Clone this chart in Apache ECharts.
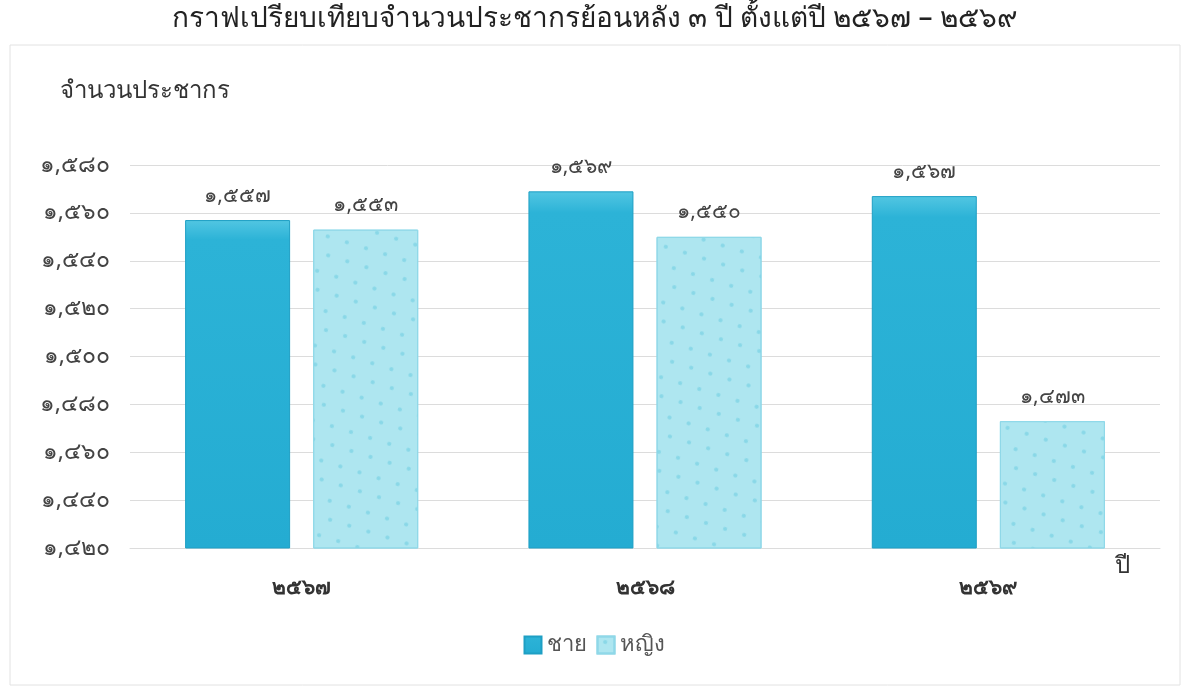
<!DOCTYPE html>
<html>
<head>
<meta charset="utf-8">
<script src="https://cdn.jsdelivr.net/npm/echarts@6/dist/echarts.min.js"></script>
<style>
html,body{margin:0;padding:0;background:#fff;}
#c{width:1188px;height:691px;}
</style>
</head>
<body>
<div id="c"></div>
<script>
const categories = ['2567', '2568', '2569'];
const maleValues = [1557, 1569, 1567];
const femaleValues = [1553, 1550, 1473];
const seriesNames = ['ชาย', 'หญิง'];
const yMin = 1420, yMax = 1580, yStep = 20;

const thaiDigits = '๐๑๒๓๔๕๖๗๘๙';
function toThai(s){ return String(s).replace(/[0-9]/g, d => thaiDigits[+d]); }
function fmtNum(v){ return toThai(Number(v).toLocaleString('en-US')); }

const FONT = '"Noto Sans", "DejaVu Sans", sans-serif';
const chart = echarts.init(document.getElementById('c'));
chart.setOption({
  backgroundColor: '#fff',
  textStyle: { fontFamily: FONT },
  title: {
    text: 'กราฟเปรียบเทียบจำนวนประชากรย้อนหลัง ' + toThai('3') + ' ปี ตั้งแต่ปี ' + toThai('2567') + ' – ' + toThai('2569'),
    left: 590, top: 0, textAlign: 'center',
    textStyle: { fontSize: 28, fontWeight: 500, color: '#222', fontFamily: FONT }
  },
  graphic: [{
    type: 'rect', shape: { x: 10, y: 45, width: 1170, height: 640 },
    style: { fill: 'none', stroke: '#e2e2e2', lineWidth: 1 }, silent: true, z: -1
  }],
  legend: {
    data: seriesNames, bottom: 30, left: 'center', icon: 'rect',
    itemWidth: 17, itemHeight: 17, itemGap: 10,
    textStyle: { fontSize: 22, color: '#555', fontFamily: FONT }
  },
  grid: { left: 130, right: 28, top: 165, bottom: 143 },
  xAxis: {
    type: 'category', data: categories,
    name: 'ปี', nameLocation: 'end', nameGap: -45,
    nameTextStyle: { fontSize: 24, color: '#333', verticalAlign: 'top', padding: [6, 0, 0, 0] },
    axisLine: { show: true, lineStyle: { color: '#dcdcdc' } },
    axisTick: { show: false },
    axisLabel: { formatter: v => toThai(v), fontSize: 21, fontWeight: 'bold', color: '#333', margin: 30 }
  },
  yAxis: {
    type: 'value', min: yMin, max: yMax, interval: yStep,
    name: 'จำนวนประชากร', nameLocation: 'end', nameGap: 62,
    nameTextStyle: { fontSize: 24, fontWeight: 500, color: '#333', align: 'left', padding: [0, 0, 0, -70] },
    axisLine: { show: false }, axisTick: { show: false },
    axisLabel: { formatter: v => fmtNum(v), fontSize: 23, color: '#444', margin: 20 },
    splitLine: { lineStyle: { color: '#dcdcdc' } }
  },
  series: [
    {
      name: seriesNames[0], type: 'bar', data: maleValues,
      barWidth: 105, barGap: '22%',
      itemStyle: {
        color: new echarts.graphic.LinearGradient(0, 0, 0, 1, [
          { offset: 0, color: '#52c6e2' }, { offset: 0.06, color: '#2cb3d7' }, { offset: 1, color: '#24acd2' }
        ]),
        borderColor: '#1e9fc4', borderWidth: 1
      },
      label: { show: true, position: 'top', distance: 14, formatter: p => fmtNum(p.value), fontSize: 21, color: '#444' }
    },
    {
      name: seriesNames[1], type: 'bar', data: femaleValues,
      barWidth: 105,
      itemStyle: {
        color: '#aee6f0', borderColor: '#8fd8e8', borderWidth: 1,
        decal: { symbol: 'circle', symbolSize: 0.7, color: 'rgba(70,190,215,0.35)', dashArrayX: [[6, 14], [0, 6, 6, 8]], dashArrayY: [6, 12], rotation: 0.3 }
      },
      label: { show: true, position: 'top', distance: 14, formatter: p => fmtNum(p.value), fontSize: 21, color: '#444' }
    }
  ]
});
</script>
</body>
</html>
